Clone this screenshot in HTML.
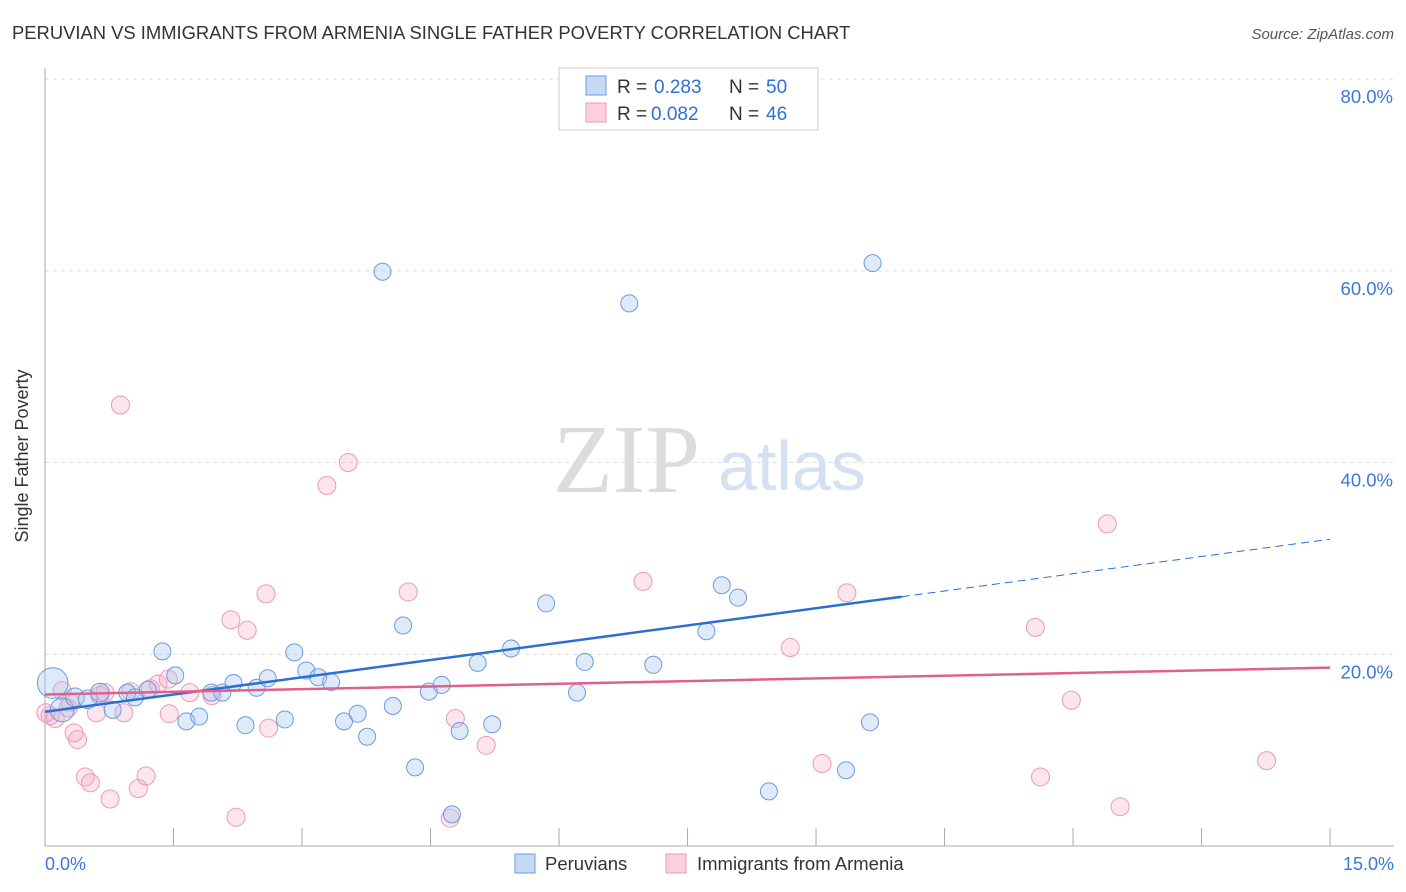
<!DOCTYPE html>
<html><head><meta charset="utf-8">
<style>
body{margin:0;background:#fff;font-family:"Liberation Sans",sans-serif;}
svg{display:block}
</style></head>
<body>
<svg id="chart" width="1406" height="892" xmlns="http://www.w3.org/2000/svg">
<text x="12" y="39" font-size="18.4" fill="#333">PERUVIAN VS IMMIGRANTS FROM ARMENIA SINGLE FATHER POVERTY CORRELATION CHART</text>
<text x="1394" y="39" font-size="15" fill="#555" font-style="italic" text-anchor="end">Source: ZipAtlas.com</text>
<text x="553" y="492" font-size="98" fill="#dcdcdc" font-family="Liberation Serif">ZIP</text>
<text x="718" y="490" font-size="70" fill="#d3e1f3">atlas</text>
<g id="grid"></g>
<line x1="45" y1="68" x2="45" y2="846" stroke="#aaa"/>
<line x1="45" y1="846" x2="1394" y2="846" stroke="#aaa"/>
<text x="28" y="456" font-size="18" fill="#333" transform="rotate(-90 28 456)" text-anchor="middle">Single Father Poverty</text>
<text x="45" y="870" font-size="18" fill="#3a78d8">0.0%</text>
<text x="1394" y="870" font-size="18" fill="#3a78d8" text-anchor="end">15.0%</text>
<g id="pts"></g>
<g id="lines"></g>
<g>
<rect x="559" y="68" width="259" height="62" fill="#fff" stroke="#ccc"/>
<rect x="586" y="76" width="20" height="19" fill="#c5d9f5" stroke="#6a9be0"/>
<rect x="586" y="103" width="20" height="19" fill="#fbd0dc" stroke="#ec9ab3"/>
<text x="617" y="93" font-size="19" fill="#333">R =</text>
<text x="654" y="93" font-size="19" fill="#2f6fd6">0.283</text>
<text x="729" y="93" font-size="19" fill="#333">N =</text>
<text x="766" y="93" font-size="19" fill="#2f6fd6">50</text>
<text x="617" y="120" font-size="19" fill="#333">R =</text>
<text x="651" y="120" font-size="19" fill="#2f6fd6">0.082</text>
<text x="729" y="120" font-size="19" fill="#333">N =</text>
<text x="766" y="120" font-size="19" fill="#2f6fd6">46</text>
</g>
<g>
<rect x="515" y="854" width="20" height="19" fill="#c5d9f5" stroke="#6a9be0"/>
<text x="545" y="870" font-size="18.5" fill="#333">Peruvians</text>
<rect x="666" y="854" width="20" height="19" fill="#fbd0dc" stroke="#ec9ab3"/>
<text x="697" y="870" font-size="18.5" fill="#333">Immigrants from Armenia</text>
</g>
</svg>
<script>
const yTicks=[20,40,60,80];
const xTicks=[0,1.5,3,4.5,6,7.5,9,10.5,12,13.5,15];
const blueX=[0.09,0.2,0.35,0.5,0.64,0.79,0.96,1.05,1.2,1.37,1.52,1.65,1.8,1.94,2.07,2.2,2.34,2.47,2.6,2.8,2.91,3.05,3.19,3.34,3.49,3.65,3.76,3.94,4.06,4.18,4.32,4.48,4.63,4.75,4.84,5.05,5.22,5.44,5.85,6.21,6.3,6.82,7.1,7.72,7.9,8.09,8.45,9.35,9.63,9.66];
const blueY=[17.0,14.2,15.5,15.3,16.0,14.2,16.0,15.5,16.3,20.3,17.8,13.0,13.5,16.0,16.0,17.0,12.6,16.5,17.5,13.2,20.2,18.3,17.6,17.1,13.0,13.8,11.4,59.9,14.6,23.0,8.2,16.1,16.8,3.3,12.0,19.1,12.7,20.6,25.3,16.0,19.2,56.6,18.9,22.4,27.2,25.9,5.7,7.9,12.9,60.8];
const blueR=[18,14,11,11,11,10,10,10,10,10,10,10,10,10,10,10,10,10,10,10,10,10,10,10,10,10,10,10,10,10,10,10,10,10,10,10,10,10,10,10,10,10,10,10,10,10,10,10,10,10];
const pinkX=[0.06,0.12,0.2,0.27,0.34,0.38,0.47,0.53,0.6,0.64,0.76,0.88,0.92,1.0,1.09,1.18,1.23,1.32,1.44,1.45,1.69,1.95,2.17,2.23,2.36,2.58,2.61,3.29,3.54,4.24,4.73,4.79,5.15,6.98,8.7,9.07,9.36,11.56,11.62,11.98,12.4,12.55,14.26,0.01,0.29,0.7];
const pinkY=[13.6,13.3,16.2,14.4,11.8,11.1,7.2,6.6,13.9,15.7,4.9,46.0,13.9,16.1,6.0,7.3,16.4,16.9,17.4,13.8,16.0,15.7,23.6,3.0,22.5,26.3,12.3,37.6,40.0,26.5,2.9,13.3,10.5,27.6,20.7,8.6,26.4,22.8,7.2,15.2,33.6,4.1,8.9,13.9,15.0,16.0];
const X=v=>45+v*85.67, Y=v=>846-v*9.5875;
const NS='http://www.w3.org/2000/svg';
const mk=(t,a,p)=>{const e=document.createElementNS(NS,t);for(const k in a)e.setAttribute(k,a[k]);p.appendChild(e);return e;};
const grid=document.getElementById('grid');
yTicks.forEach(v=>{
 const l=mk('line',{x1:45,x2:1394,y1:Y(v),y2:Y(v),stroke:'#ddd','stroke-dasharray':'4 4'},grid);
 
 
 const t=mk('text',{x:1393,y:Y(v)+24,'font-size':18.5,fill:'#3a78d8','text-anchor':'end'},grid);
 t.textContent=v.toFixed(1)+'%';
 
 
});
xTicks.forEach(v=>{
 const l=mk('line',{x1:X(v),x2:X(v),y1:828,y2:846,stroke:'#aaa'},grid);
 
 
});
const pts=document.getElementById('pts');
pinkX.forEach((x,i)=>{
 const c=mk('circle',{cx:X(x),cy:Y(pinkY[i]),r:9,fill:'rgba(246,170,195,0.3)',stroke:'#ec9ab3','stroke-width':1},pts);
 
 
});
blueX.forEach((x,i)=>{
 const c=mk('circle',{cx:X(x),cy:Y(blueY[i]),r:blueR[i]*0.85,fill:'rgba(160,195,240,0.35)',stroke:'#6a9be0','stroke-width':1},pts);
 
 
});
const lines=document.getElementById('lines');
const bl=mk('line',{x1:X(0),y1:Y(14.0),x2:X(10),y2:Y(26.0),stroke:'#2a6fd6','stroke-width':2.5},lines);


const bd=mk('line',{x1:X(10),y1:Y(26.0),x2:X(15),y2:Y(32.0),stroke:'#2a6fd6','stroke-width':1,'stroke-dasharray':'8 5'},lines);


const pl=mk('line',{x1:X(0),y1:Y(15.8),x2:X(15),y2:Y(18.6),stroke:'#e0608c','stroke-width':2.5},lines);


</script>
</body></html>
